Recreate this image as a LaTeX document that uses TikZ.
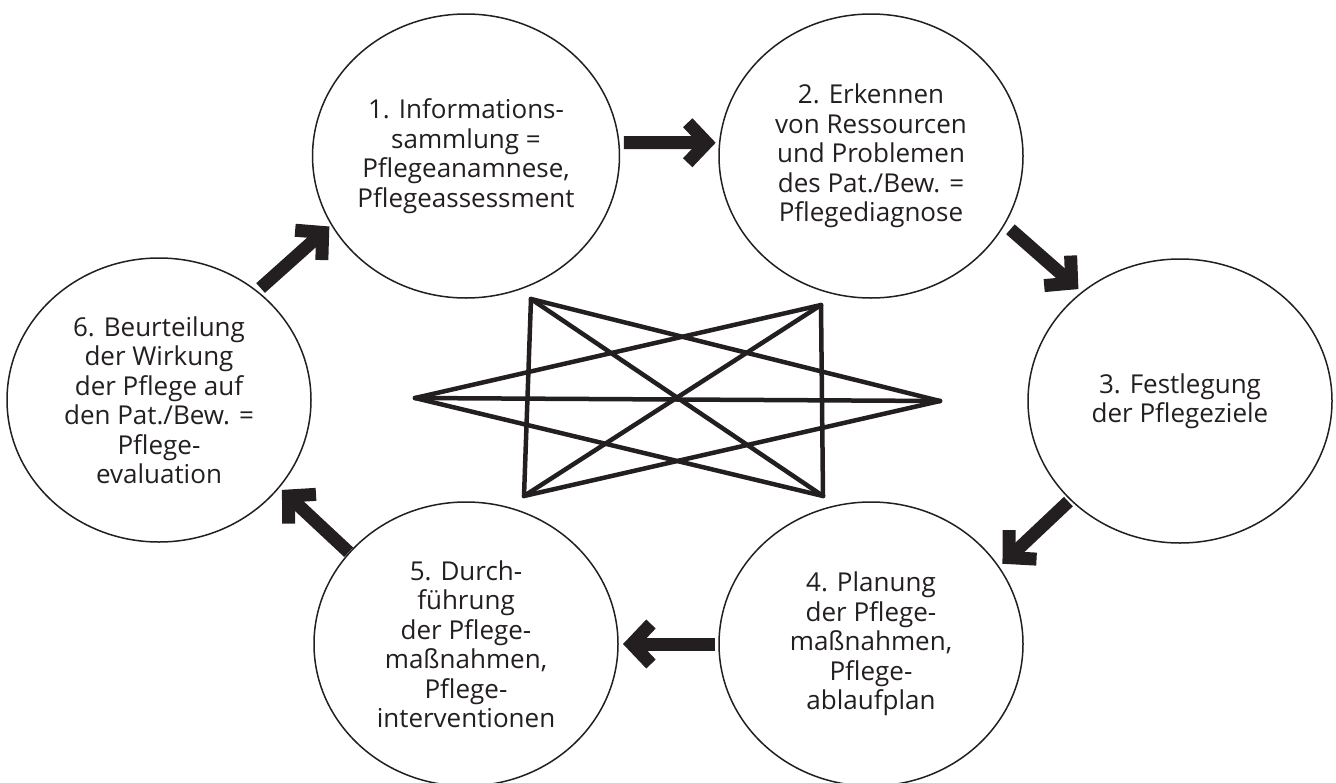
\documentclass[tikz,border=0pt]{standalone}
\usepackage{fontspec}
\setmainfont{Open Sans}
\usetikzlibrary{shapes.geometric,arrows.meta}
\definecolor{ink}{HTML}{231F20}

\begin{document}
\begin{tikzpicture}[x=1pt,y=-1pt]
  \useasboundingbox (0,0) rectangle (1336,782);
  \tikzset{PhaseStyle/.style = {
    shape          = ellipse,
    draw           = ink,
    line width     = 1.5pt,
    fill           = white,
    text           = ink,
    minimum width  = 304pt,
    minimum height = 284pt,
    inner sep      = 0pt,
    outer sep      = 0pt,
    align          = center,
    font           = \fontsize{26}{29.5}\selectfont
    }
  }
  \tikzset{StepArrowStyle/.style = {
    draw       = ink,
    line width = 13pt,
    line join  = miter,
    -{Straight Barb[length=19pt,width=40pt]}
    }
  }
  \tikzset{StarStyle/.style = {
    draw       = ink,
    line width = 4.5pt,
    line cap   = round
    }
  }

	\node[PhaseStyle](P1) at (466, 156) {1. Informations-\\sammlung =\\Pflegeanamnese,\\Pflegeassessment};
	\node[PhaseStyle](P2) at (871, 156) {2. Erkennen\\von Ressourcen\\und Problemen\\des Pat./Bew. =\\Pflegediagnose};
	\node[PhaseStyle](P3) at (1180, 401) {3. Festlegung\\der Pflegeziele};
	\node[PhaseStyle](P4) at (871, 644) {4. Planung\\der Pflege-\\maßnahmen,\\Pflege-\\ablaufplan};
	\node[PhaseStyle](P5) at (466, 644) {5. Durch-\\führung\\der Pflege-\\maßnahmen,\\Pflege-\\interventionen};
	\node[PhaseStyle](P6) at (159, 400) {6. Beurteilung\\der Wirkung\\der Pflege auf\\den Pat./Bew. =\\Pflege-\\evaluation};

	\draw[StepArrowStyle, shorten <=5pt, shorten >=4pt](P1.5) to (P2.175);
	\draw[StepArrowStyle, shorten <=8pt, shorten >=5pt](P2.-27) to (P3.132);
	\draw[StepArrowStyle, shorten <=3pt, shorten >=5pt](P3.222) to (P4.31.5);
	\draw[StepArrowStyle, shorten <=4pt, shorten >=5pt](P4.west) to (P5.east);
	\draw[StepArrowStyle, shorten <=1pt, shorten >=4pt](P5.142) to (P6.-36);
	\draw[StepArrowStyle, shorten <=5pt, shorten >=3pt](P6.48) to (P1.207);

	\coordinate (StarL)  at (415, 398);
	\coordinate (StarR)  at (940, 401);
	\coordinate (StarTL) at (531, 299);
	\coordinate (StarTR) at (821, 305);
	\coordinate (StarBL) at (524, 496);
	\coordinate (StarBR) at (823, 496);
	\draw[StarStyle](StarL) -- (StarR);
	\draw[StarStyle](StarL) -- (StarTR);
	\draw[StarStyle](StarL) -- (StarBR);
	\draw[StarStyle](StarR) -- (StarTL);
	\draw[StarStyle](StarR) -- (StarBL);
	\draw[StarStyle](StarTL) -- (StarBL);
	\draw[StarStyle](StarTR) -- (StarBR);
	\draw[StarStyle](StarTL) -- (StarBR);
	\draw[StarStyle](StarTR) -- (StarBL);

\end{tikzpicture}
\end{document}
